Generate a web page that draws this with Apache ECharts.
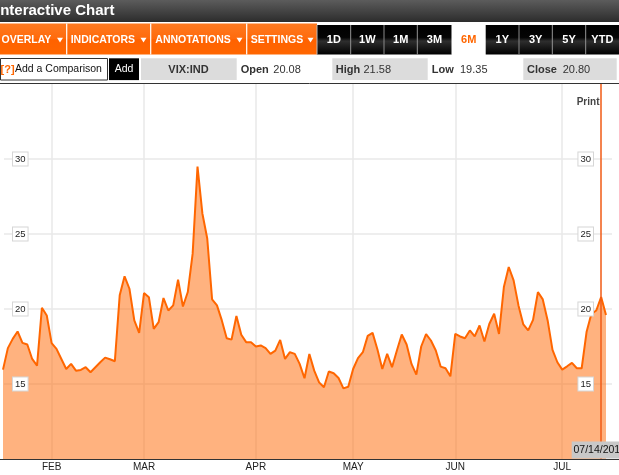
<!DOCTYPE html>
<html>
<head>
<meta charset="utf-8">
<script src="https://cdn.jsdelivr.net/npm/echarts@6/dist/echarts.min.js"></script>
<style>
html,body{margin:0;padding:0;background:#fff;}
#chart{width:619px;height:475px;}
</style>
</head>
<body>
<div id="chart"></div>
<script>
// ---- data (VIX:IND, trading days 2011) ----
const year = 2011;
const janDays = [18,19,20,21,24,25,26,27,28,31];
const febDays = [1,2,3,4,7,8,9,10,11,14,15,16,17,18,22,23,24,25,28];
const marDays = [1,2,3,4,7,8,9,10,11,14,15,16,17,18,21,22,23,24,25,28,29,30,31];
const aprDays = [1,4,5,6,7,8,11,12,13,14,15,18,19,20,21,25,26,27,28,29];
const mayDays = [2,3,4,5,6,9,10,11,12,13,16,17,18,19,20,23,24,25,26,27,31];
const junDays = [1,2,3,6,7,8,9,10,13,14,15,16,17,20,21,22,23,24,27,28,29,30];
const julDays = [1,5,6,7,8,11,12,13,14,15];

const janVals = [15.96,17.39,18.01,18.5,17.74,17.63,16.67,16.23,20.08,19.57];
const febVals = [17.72,17.34,16.67,16.0,16.34,15.89,15.94,16.12,15.78,16.12,16.45,16.76,16.65,16.52,20.91,22.18,21.35,19.24,18.41];
const marVals = [21.06,20.79,18.68,19.12,20.73,19.9,20.24,21.95,20.17,21.13,23.69,29.49,26.37,24.7,20.64,20.24,19.24,18.05,17.96,19.53,18.28,17.79,17.79];
const aprVals = [17.5,17.57,17.39,17.01,17.23,17.94,16.67,17.12,17.01,16.34,15.38,17.0,15.89,15.11,14.78,15.83,15.72,15.4,14.71,14.82];
const mayVals = [16.0,16.72,17.12,18.21,18.41,17.3,16.0,17.01,16.12,17.23,18.3,17.63,16.34,15.63,17.5,18.32,17.9,17.23,16.16,16.05,15.51];
const junVals = [18.34,18.17,18.05,18.57,18.17,18.9,17.83,19.0,19.68,18.34,21.46,22.8,21.91,20.24,18.97,18.57,19.28,21.13,20.64,19.24,17.27,16.45];
const julVals = [15.96,16.18,16.41,16.05,16.05,18.46,19.68,19.9,20.8,19.6];

const monthNames = ['JAN','FEB','MAR','APR','MAY','JUN','JUL','AUG','SEP','OCT','NOV','DEC'];
const yTicks = [15,20,25,30];
const ohlcLabels = ['Open','High','Low','Close'];
const ohlcValues = ['20.08','21.58','19.35','20.80'];
const symbolName = 'VIX:IND';
const menuItems = ['OVERLAY','INDICATORS','ANNOTATIONS','SETTINGS'];
const ranges = ['1D','1W','1M','3M','6M','1Y','3Y','5Y','YTD'];
const activeRange = '6M';
const crossDate = '2011-07-14';

// ---- build ----
const pad = n => (n < 10 ? '0' : '') + n;
const monthDayLists = [janDays, febDays, marDays, aprDays, mayDays, junDays, julDays];
const monthValLists = [janVals, febVals, marVals, aprVals, mayVals, junVals, julVals];
const dates = [];
const values = [];
monthDayLists.forEach((days, m) => {
  days.forEach((d, k) => {
    dates.push(year + '-' + pad(m + 1) + '-' + pad(d));
    values.push(monthValLists[m][k]);
  });
});
const monthOf = s => parseInt(s.slice(5, 7), 10) - 1;
const isMonthStart = (idx) => idx > 0 && monthOf(dates[idx]) !== monthOf(dates[idx - 1]);
const crossLabel = crossDate.slice(5, 7) + '/' + crossDate.slice(8, 10) + '/' + crossDate.slice(0, 4);

const FONT = 'Arial, "Liberation Sans", sans-serif';
const chart = echarts.init(document.getElementById('chart'), null, {renderer: 'canvas'});

// chrome graphics
const g = [];
g.push({type:'rect', shape:{x:0,y:0,width:619,height:22},
  style:{fill:new echarts.graphic.LinearGradient(0,0,0,1,[{offset:0,color:'#5c5c5c'},{offset:1,color:'#2c2c2c'}])}, silent:true});
g.push({type:'text', x:-4, y:10.5, style:{text:'Interactive Chart', fill:'#fff', font:'bold 15px ' + FONT, verticalAlign:'middle'}});
// orange menu bar
g.push({type:'rect', shape:{x:0,y:23.5,width:317,height:31},
  style:{fill:new echarts.graphic.LinearGradient(0,0,0,1,[{offset:0,color:'#ff7a20'},{offset:0.5,color:'#ff6a0c'},{offset:0.52,color:'#ff6200'},{offset:1,color:'#ff6600'}])}});
const menuX = [1.5, 70.7, 155.3, 250.7];
const triX = [57, 140.5, 236.5, 307.5];
const dividerX = [66.7, 150.7, 246.7];
menuItems.forEach((t, i) => {
  g.push({type:'text', x:menuX[i], y:40, style:{text:t, fill:'#fff', font:'bold 10.5px ' + FONT, verticalAlign:'middle'}});
  g.push({type:'polygon', shape:{points:[[triX[i],37.8],[triX[i]+6,37.8],[triX[i]+3,42.6]]}, style:{fill:'#fff'}});
});
dividerX.forEach(x => g.push({type:'line', shape:{x1:x,y1:23.5,x2:x,y2:54.5}, style:{stroke:'#fff', lineWidth:1.2}}));
// range buttons
const cellEdges = [317, 350.7, 384, 417.3, 451.7, 485.7, 519, 552.3, 585.7, 619];
ranges.forEach((r, i) => {
  const x0 = cellEdges[i], x1 = cellEdges[i + 1];
  const active = r === activeRange;
  g.push({type:'rect', shape:{x:x0, y:25, width:x1 - x0, height:29.5},
    style:{fill: active ? '#fff' : new echarts.graphic.LinearGradient(0,0,0,1,[{offset:0,color:'#000'},{offset:0.42,color:'#050505'},{offset:0.55,color:'#2e2e2e'},{offset:1,color:'#000'}])}});
  g.push({type:'text', x:(x0 + x1) / 2, y:40, style:{text:r, fill: active ? '#ff6600' : '#fff', font:'bold 11px ' + FONT, align:'center', verticalAlign:'middle'}});
  if (i > 0 && !active && ranges[i - 1] !== activeRange) {
    g.push({type:'line', shape:{x1:x0, y1:25, x2:x0, y2:54.5}, style:{stroke:'#8a8a8a', lineWidth:1}});
  }
});
g.push({type:'line', shape:{x1:317, y1:25, x2:317, y2:54.5}, style:{stroke:'#bbb', lineWidth:1}});
// second row
g.push({type:'rect', shape:{x:0.5,y:58.5,width:107,height:21.5}, style:{fill:'#fff', stroke:'#333', lineWidth:1}});
g.push({type:'text', x:0.5, y:69.5, style:{text:'[?]', fill:'#ff6600', font:'bold 11px ' + FONT, verticalAlign:'middle'}});
g.push({type:'text', x:15, y:69.5, style:{text:'Add a Comparison', fill:'#111', font:'10.5px ' + FONT, verticalAlign:'middle'}});
g.push({type:'rect', shape:{x:109,y:58.3,width:30,height:21.8}, style:{fill:'#000'}});
g.push({type:'text', x:124, y:69.5, style:{text:'Add', fill:'#fff', font:'10.5px ' + FONT, align:'center', verticalAlign:'middle'}});
g.push({type:'rect', shape:{x:141,y:58.3,width:95.7,height:21.8}, style:{fill:'#dcdcdc'}});
g.push({type:'text', x:188.5, y:69.5, style:{text:symbolName, fill:'#333', font:'bold 11px ' + FONT, align:'center', verticalAlign:'middle'}});
g.push({type:'rect', shape:{x:332.3,y:58.3,width:95.4,height:21.8}, style:{fill:'#dcdcdc'}});
g.push({type:'rect', shape:{x:523.3,y:58.3,width:93.4,height:21.8}, style:{fill:'#dcdcdc'}});
const ohlcLabelX = [240.7, 335.7, 431.7, 527];
const ohlcValX = [273.3, 363.5, 460, 562.7];
ohlcLabels.forEach((t, i) => {
  g.push({type:'text', x:ohlcLabelX[i], y:69.5, style:{text:t, fill:'#333', font:'bold 11px ' + FONT, verticalAlign:'middle'}});
  g.push({type:'text', x:ohlcValX[i], y:69.5, style:{text:ohlcValues[i], fill:'#333', font:'11px ' + FONT, verticalAlign:'middle'}});
});
g.push({type:'line', shape:{x1:0,y1:83.5,x2:619,y2:83.5}, style:{stroke:'#333', lineWidth:1}});
// print
g.push({type:'text', x:576.7, y:102.5, style:{text:'Print', fill:'#444', font:'bold 10px ' + FONT, verticalAlign:'middle'}, z:20});
// bottom axis line full width
g.push({type:'line', shape:{x1:0,y1:459.5,x2:619,y2:459.5}, style:{stroke:'#333', lineWidth:1}, z:20});
// crosshair date label
g.push({type:'rect', shape:{x:571.7,y:441.5,width:50,height:17}, style:{fill:'#c8c8c8'}, z:30});
g.push({type:'text', x:573.5, y:450.5, style:{text:crossLabel, fill:'#111', font:'10.5px ' + FONT, verticalAlign:'middle'}, z:31});

const yLabelStyle = {
  inside: true, fontSize: 9.5, fontFamily: FONT, color: '#222',
  backgroundColor: '#fff', borderColor: '#d6d6d6', borderWidth: 1,
  padding: [2, 2, 1, 2], showMinLabel: false, showMaxLabel: false,
  formatter: v => (yTicks.indexOf(v) >= 0 ? String(v) : '')
};

chart.setOption({
  animation: false,
  backgroundColor: '#fff',
  grid: [
    {left: 3, right: 13, top: 84, bottom: 16},
    {left: 4, right: 7, top: 84, bottom: 16}
  ],
  xAxis: [
    {
      gridIndex: 0, type: 'category', data: dates, boundaryGap: false,
      axisLine: {show: true, lineStyle: {color: '#333', width: 1}},
      axisTick: {show: false},
      axisLabel: {
        interval: (idx) => isMonthStart(idx),
        formatter: (v) => monthNames[monthOf(v)],
        fontSize: 10, fontFamily: FONT, color: '#222', margin: 3
      },
      splitLine: {show: true, interval: (idx) => isMonthStart(idx), lineStyle: {color: '#e8e8e8', width: 1.5}}
    },
    {gridIndex: 1, type: 'value', show: false, min: 0, max: 1}
  ],
  yAxis: [
    {gridIndex: 0, type: 'value', min: 10, max: 35, interval: 5, position: 'left', z: 10,
      axisLine: {show: false}, axisTick: {show: false}, splitLine: {show: false},
      axisLabel: Object.assign({}, yLabelStyle, {margin: 10})},
    {gridIndex: 0, type: 'value', min: 10, max: 35, interval: 5, position: 'right', z: 10,
      axisLine: {show: false}, axisTick: {show: false}, splitLine: {show: false},
      axisLabel: Object.assign({}, yLabelStyle, {margin: 13})},
    {gridIndex: 1, type: 'value', min: 10, max: 35, interval: 5, z: 0,
      axisLine: {show: false}, axisTick: {show: false}, axisLabel: {show: false},
      splitLine: {show: true, showMinLine: false, showMaxLine: false, lineStyle: {color: '#e8e8e8', width: 1.5}}}
  ],
  series: [{
    type: 'line', xAxisIndex: 0, yAxisIndex: 0, data: values,
    symbol: 'none', smooth: false,
    lineStyle: {color: '#ff6600', width: 2},
    areaStyle: {color: '#ff6600', opacity: 0.5, origin: 'start'},
    markLine: {
      silent: true, symbol: ['none', 'none'],
      label: {show: false},
      lineStyle: {color: '#f05a14', width: 1.5, type: 'solid', opacity: 1},
      emphasis: {disabled: true},
      data: [{xAxis: crossDate, lineStyle: {color: '#f05a14', width: 1.5, type: 'solid'}}]
    },
    z: 2
  }],
  graphic: g
});
</script>
</body>
</html>
